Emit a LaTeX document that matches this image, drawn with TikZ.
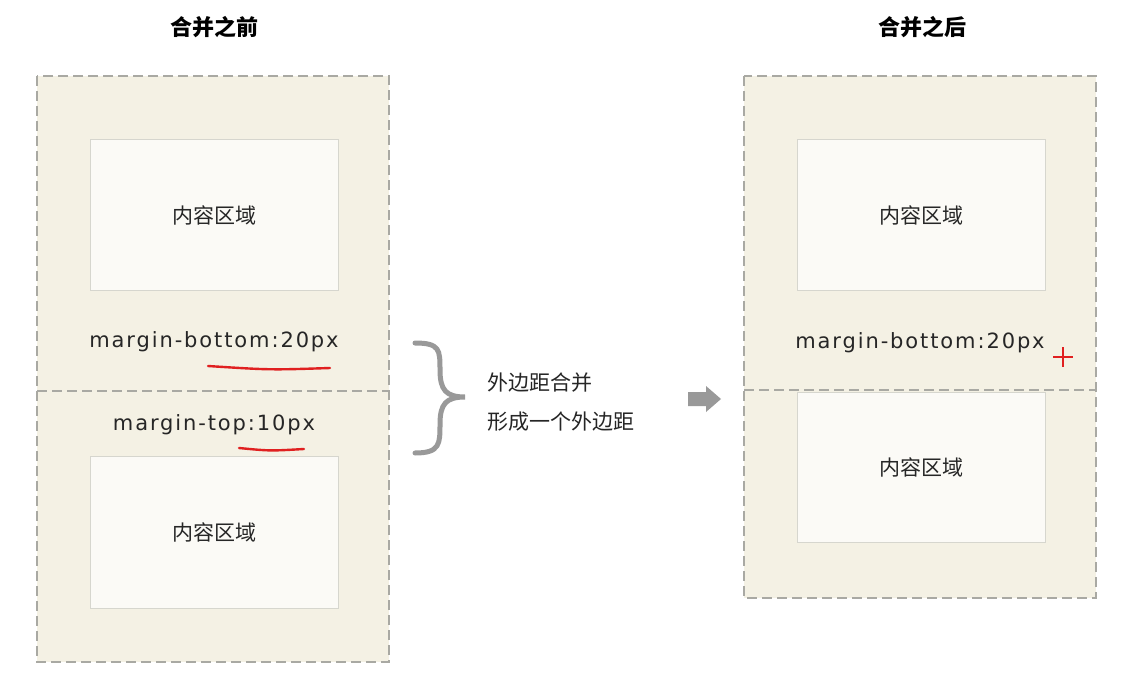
\documentclass[tikz,border=0pt]{standalone}
\usepackage{fontspec}
\setmainfont{DejaVu Sans}
\newfontfamily\cjk{Noto Sans CJK SC}
\newfontfamily\spaced[LetterSpace=9]{DejaVu Sans}
\usetikzlibrary{arrows.meta}
\definecolor{outerfill}{HTML}{F4F1E4}
\definecolor{innerfill}{HTML}{FBFAF6}
\definecolor{innerline}{HTML}{D6D6CE}
\definecolor{dashline}{HTML}{A9A9A3}
\definecolor{redline}{HTML}{E02020}
\tikzset{
  x=1pt,y=-1pt,
  outerbox/.style={draw=dashline,fill=outerfill,line width=1.8pt,dash pattern=on 10pt off 5pt},
  innerbox/.style={draw=innerline,fill=innerfill,line width=0.8pt},
  divider/.style={draw=dashline,line width=1.8pt,dash pattern=on 10pt off 5pt},
  ctext/.style={font=\cjk\fontsize{21}{24}\selectfont,text=black!85},
  mtext/.style={font=\spaced\fontsize{21}{24}\selectfont,text=black!85},
  ttext/.style={font=\cjk\bfseries\fontsize{22}{26}\selectfont},
  uline/.style={draw=redline,line width=2.4pt,line cap=round}
}
\begin{document}
\begin{tikzpicture}
\useasboundingbox (0,0) rectangle (1138,674);
\fill[white] (0,0) rectangle (1138,674);
\node[ttext] (t1) at (214,27) {合并之前};
\node[ttext] (t2) at (922,27) {合并之后};
% left
\path[outerbox] (37,76) rectangle (389,662);
\draw[divider] (37,391) -- (389,391);
\path[innerbox] (90,139) rectangle (338,290);
\path[innerbox] (90,456) rectangle (338,608);
\node[ctext] (l1) at (214,215) {内容区域};
\node[ctext] (l2) at (214,532) {内容区域};
\node[mtext] (mb) at (214,342) {margin-bottom:20px};
\node[mtext] (mt) at (214,425) {margin-top:10px};
\draw[uline] (208,366) .. controls (270,370) .. (330,368);
\draw[uline] (239,448) .. controls (270,451) .. (304,449);
% brace
\draw[line width=5pt,draw=black!40,line cap=round]
  (415,343) .. controls (440,343) and (440,350) .. (440,370)
  .. controls (440,390) and (446,397) .. (465,397)
  .. controls (446,397) and (440,404) .. (440,424)
  .. controls (440,444) and (440,453) .. (415,453);
\node[ctext,anchor=west] (c1) at (484,383) {外边距合并};
\node[ctext,anchor=west] (c2) at (484,422) {形成一个外边距};
% arrow
\fill[black!40] (688,392) -- (706,392) -- (706,386) -- (721,399) -- (706,412) -- (706,406) -- (688,406) -- cycle;
% right
\path[outerbox] (744,76) rectangle (1096,598);
\draw[divider] (744,390) -- (1096,390);
\path[innerbox] (797,139) rectangle (1045,290);
\path[innerbox] (797,392) rectangle (1045,542);
\node[ctext] (r1) at (921,215) {内容区域};
\node[ctext] (r2) at (921,467) {内容区域};
\node[mtext] (rmb) at (920,343) {margin-bottom:20px};
\draw[redline,line width=2.6pt] (1053,357) -- (1073,357) (1063,347) -- (1063,367);
\end{tikzpicture}
\end{document}
